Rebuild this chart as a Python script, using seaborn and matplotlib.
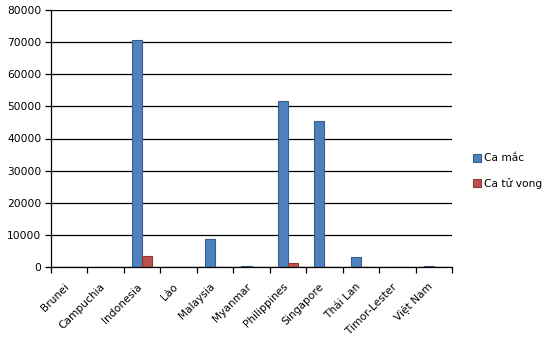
import matplotlib
matplotlib.use("Agg")
import matplotlib.pyplot as plt
import seaborn as sns
import pandas as pd
import numpy as np
from matplotlib.ticker import FixedLocator
from matplotlib.patches import Patch

countries = ["Brunei", "Campuchia", "Indonesia", "Lào", "Malaysia", "Myanmar",
             "Philippines", "Singapore", "Thái Lan", "Timor-Lester", "Việt Nam"]
cases = [141, 141, 70736, 19, 8600, 300, 51754, 45500, 3100, 24, 340]
deaths = [3, 0, 3300, 0, 121, 6, 1100, 26, 58, 0, 0]
series_names = ["Ca mắc", "Ca tử vong"]
yticks = [0, 10000, 20000, 30000, 40000, 50000, 60000, 70000, 80000]

df = pd.DataFrame({
    "country": countries * 2,
    "value": cases + deaths,
    "series": [series_names[0]] * len(countries) + [series_names[1]] * len(countries),
})

sns.set_style("white")
plt.rcParams["font.family"] = ["DejaVu Sans"]
plt.rcParams["text.color"] = "black"
plt.rcParams["xtick.color"] = "black"
plt.rcParams["ytick.color"] = "black"
plt.rcParams["xtick.labelcolor"] = "black"
plt.rcParams["ytick.labelcolor"] = "black"

W, H = 552, 344
fig = plt.figure(figsize=(W / 100, H / 100), dpi=100)
ax = fig.add_axes([51 / W, (H - 267) / H, (452 - 51) / W, (267 - 10) / H])

face = {"Ca mắc": "#4F81BD", "Ca tử vong": "#C0504D"}
edge = {"Ca mắc": "#385D8A", "Ca tử vong": "#8C3836"}
sns.barplot(data=df, x="country", y="value", hue="series", palette=face,
            width=0.56, dodge=True, ax=ax, legend=False, saturation=1)

for cont, name in zip(ax.containers, series_names):
    for p in cont:
        p.set_edgecolor(edge[name])
        p.set_linewidth(0.8)

ax.set_xlim(-0.5, len(countries) - 0.5)
ax.set_ylim(0, 80000)
ax.set_yticks(yticks)
ax.set_yticklabels([str(v) for v in yticks], fontsize=7.7, color="black")
ax.yaxis.grid(True, color="#000000", linewidth=0.9)
ax.set_axisbelow(True)
ax.set_xlabel("")
ax.set_ylabel("")

ax.set_xticks(range(len(countries)))
ax.set_xticklabels(countries, rotation=45, ha="right", va="baseline",
                   rotation_mode="anchor", fontsize=7.7, color="black")
ax.xaxis.set_minor_locator(FixedLocator(np.arange(-0.5, len(countries), 1.0)))
ax.tick_params(axis="x", which="major", length=0, pad=14.5)
ax.tick_params(axis="x", which="minor", length=4, width=0.9, color="black", direction="out", bottom=True)
ax.tick_params(axis="y", which="major", length=4, width=0.9, color="black", direction="out", left=True, pad=3)

for s in ["top", "right"]:
    ax.spines[s].set_visible(False)
for s in ["left", "bottom"]:
    ax.spines[s].set_color("black")
    ax.spines[s].set_linewidth(0.9)

handles = [Patch(facecolor=face[n], edgecolor=edge[n], linewidth=0.8) for n in series_names]
fig.legend(handles, series_names, loc="center left", bbox_to_anchor=(463 / W, 1 - 171 / H),
           frameon=False, fontsize=7.7, handlelength=0.8, handleheight=0.8,
           handletextpad=0.3, labelspacing=1.35, labelcolor="black")

fig.savefig("out.png", dpi=100)
